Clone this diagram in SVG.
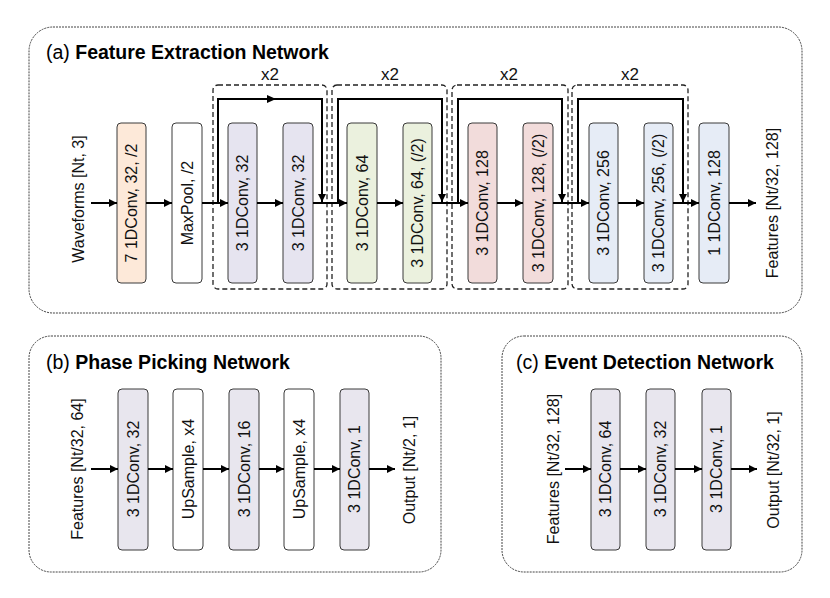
<svg xmlns="http://www.w3.org/2000/svg" width="830" height="598" viewBox="0 0 830 598">
<defs>
<marker id="ah" viewBox="0 0 10 10" refX="10" refY="5" markerWidth="4" markerHeight="4" orient="auto" markerUnits="strokeWidth">
<path d="M0,0 L10,5 L0,10 z" fill="#000"/>
</marker>
<style>
.panel{fill:#fff;stroke:#444;stroke-width:1;stroke-dasharray:2 1}
.blk{fill:none;stroke:#222;stroke-width:1.3;stroke-dasharray:5 3}
.n{stroke:#3a3a3a;stroke-width:1}
.w{fill:#fff}
.or{fill:#fde9d9}
.lv{fill:#e6e4f0}
.gr{fill:#ebf1de}
.rd{fill:#f2dcdb}
.bl{fill:#e6ecf6}
.gy{fill:#e8e6ee}
.t{font-family:"Liberation Sans",Arial,sans-serif;font-size:16px;fill:#111;text-anchor:middle;dominant-baseline:central}
.x2{font-size:17px}
.ttl{font-family:"Liberation Sans",Arial,sans-serif;font-size:19.5px;fill:#000}
.ca{fill:none;stroke:#000;stroke-width:2;marker-end:url(#ah)}
</style>
</defs>
<g id="panel-a">
<rect class="panel" x="29" y="27" width="773" height="286" rx="24"/>
<text class="ttl" x="46" y="59">(a) <tspan font-weight="bold">Feature Extraction Network</tspan></text>
</g>
<g id="panel-b">
<rect class="panel" x="29" y="336" width="412" height="236" rx="22"/>
<text class="ttl" x="46" y="369">(b) <tspan font-weight="bold">Phase Picking Network</tspan></text>
</g>
<g id="panel-c">
<rect class="panel" x="502" y="336" width="300" height="236" rx="22"/>
<text class="ttl" x="516" y="369">(c) <tspan font-weight="bold">Event Detection Network</tspan></text>
</g>
<g id="blocks">
<rect class="blk" x="213" y="85" width="114" height="204" rx="5"/>
<text class="t x2" x="270" y="74">x2</text>
<rect class="blk" x="332" y="85" width="115" height="204" rx="5"/>
<text class="t x2" x="390" y="74">x2</text>
<rect class="blk" x="452" y="85" width="116" height="204" rx="5"/>
<text class="t x2" x="509" y="74">x2</text>
<rect class="blk" x="572" y="85" width="116" height="204" rx="5"/>
<text class="t x2" x="630" y="74">x2</text>
</g>
<g id="labels-a">
<text class="t" transform="translate(78,199) rotate(-90)">Waveforms [Nt, 3]</text>
<text class="t" transform="translate(772,203) rotate(-90)">Features [Nt/32, 128]</text>
</g>
<g id="a1"><rect class="n or" x="117" y="123" width="29" height="160" rx="4"/><text class="t" transform="translate(131.5,203) rotate(-90)">7 1DConv, 32, /2</text></g>
<g id="a2"><rect class="n w" x="172" y="123" width="30" height="160" rx="4"/><text class="t" transform="translate(187,203) rotate(-90)">MaxPool, /2</text></g>
<g id="a3"><rect class="n lv" x="228" y="123" width="29" height="160" rx="4"/><text class="t" transform="translate(242.5,203) rotate(-90)">3 1DConv, 32</text></g>
<g id="a4"><rect class="n lv" x="283" y="123" width="30" height="160" rx="4"/><text class="t" transform="translate(298,203) rotate(-90)">3 1DConv, 32</text></g>
<g id="a5"><rect class="n gr" x="347" y="123" width="30" height="160" rx="4"/><text class="t" transform="translate(362,203) rotate(-90)">3 1DConv, 64</text></g>
<g id="a6"><rect class="n gr" x="403" y="123" width="29" height="160" rx="4"/><text class="t" transform="translate(417.5,203) rotate(-90)">3 1DConv, 64, (/2)</text></g>
<g id="a7"><rect class="n rd" x="468" y="123" width="29" height="160" rx="4"/><text class="t" transform="translate(482.5,203) rotate(-90)">3 1DConv, 128</text></g>
<g id="a8"><rect class="n rd" x="523" y="123" width="30" height="160" rx="4"/><text class="t" transform="translate(538,203) rotate(-90)">3 1DConv, 128, (/2)</text></g>
<g id="a9"><rect class="n bl" x="589" y="123" width="29" height="160" rx="4"/><text class="t" transform="translate(603.5,203) rotate(-90)">3 1DConv, 256</text></g>
<g id="a10"><rect class="n bl" x="644" y="123" width="29" height="160" rx="4"/><text class="t" transform="translate(658.5,203) rotate(-90)">3 1DConv, 256, (/2)</text></g>
<g id="a11"><rect class="n bl" x="699" y="123" width="30" height="160" rx="4"/><text class="t" transform="translate(714,203) rotate(-90)">1 1DConv, 128</text></g>
<g id="b-labels">
<text class="t" transform="translate(77,469) rotate(-90)">Features [Nt/32, 64]</text>
<text class="t" transform="translate(409,470) rotate(-90)">Output [Nt/2, 1]</text>
</g>
<g id="b1"><rect class="n gy" x="118" y="389" width="30" height="161" rx="4"/><text class="t" transform="translate(133,469) rotate(-90)">3 1DConv, 32</text></g>
<g id="b2"><rect class="n w" x="173" y="389" width="30" height="161" rx="4"/><text class="t" transform="translate(188,469) rotate(-90)">UpSample, x4</text></g>
<g id="b3"><rect class="n gy" x="229" y="389" width="30" height="161" rx="4"/><text class="t" transform="translate(244,469) rotate(-90)">3 1DConv, 16</text></g>
<g id="b4"><rect class="n w" x="284" y="389" width="30" height="161" rx="4"/><text class="t" transform="translate(299,469) rotate(-90)">UpSample, x4</text></g>
<g id="b5"><rect class="n gy" x="340" y="389" width="29" height="161" rx="4"/><text class="t" transform="translate(354.5,469) rotate(-90)">3 1DConv, 1</text></g>
<g id="c-labels">
<text class="t" transform="translate(553,469) rotate(-90)">Features [Nt/32, 128]</text>
<text class="t" transform="translate(773,470) rotate(-90)">Output [Nt/32, 1]</text>
</g>
<g id="c1"><rect class="n gy" x="591" y="389" width="29" height="161" rx="4"/><text class="t" transform="translate(605.5,469) rotate(-90)">3 1DConv, 64</text></g>
<g id="c2"><rect class="n gy" x="646" y="389" width="29" height="161" rx="4"/><text class="t" transform="translate(660.5,469) rotate(-90)">3 1DConv, 32</text></g>
<g id="c3"><rect class="n gy" x="702" y="389" width="29" height="161" rx="4"/><text class="t" transform="translate(716.5,469) rotate(-90)">3 1DConv, 1</text></g>
<g id="connectors">
<path class="ca" d="M91,203 H117"/>
<path class="ca" d="M146,203 H172"/>
<path class="ca" d="M202,203 H228"/>
<path class="ca" d="M257,203 H283"/>
<path class="ca" d="M313,203 H347"/>
<path class="ca" d="M377,203 H403"/>
<path class="ca" d="M432,203 H468"/>
<path class="ca" d="M497,203 H523"/>
<path class="ca" d="M553,203 H589"/>
<path class="ca" d="M618,203 H644"/>
<path class="ca" d="M673,203 H699"/>
<path class="ca" d="M729,203 H756"/>
<path class="ca" d="M218,203 V99 H322 V202"/>
<path d="M267,95 L276,99 L267,103 z" fill="#000"/>
<path class="ca" d="M338,203 V99 H442 V202"/>
<path class="ca" d="M458,203 V99 H562 V202"/>
<path class="ca" d="M578,203 V99 H683 V202"/>
<path class="ca" d="M91,469 H118"/>
<path class="ca" d="M148,469 H173"/>
<path class="ca" d="M203,469 H229"/>
<path class="ca" d="M259,469 H284"/>
<path class="ca" d="M314,469 H340"/>
<path class="ca" d="M369,469 H395"/>
<path class="ca" d="M565,469 H591"/>
<path class="ca" d="M620,469 H646"/>
<path class="ca" d="M675,469 H702"/>
<path class="ca" d="M731,469 H757"/>
</g>
</svg>
